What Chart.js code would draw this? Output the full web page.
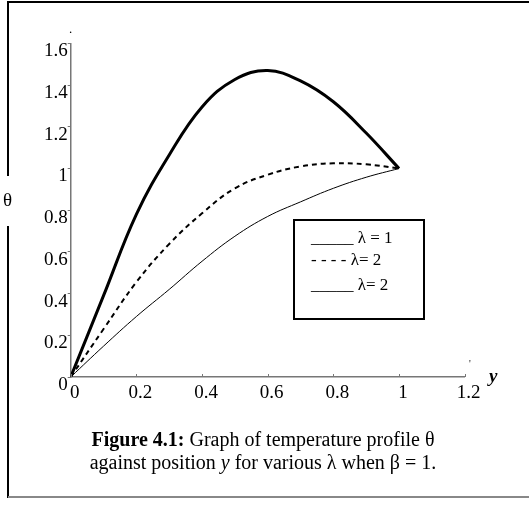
<!DOCTYPE html>
<html>
<head>
<meta charset="utf-8">
<script src="https://cdn.jsdelivr.net/npm/chart.js@4.4.1/dist/chart.umd.min.js"></script>
<style>
  html, body { margin: 0; padding: 0; background: #fff; }
  #wrap { position: relative; width: 529px; height: 506px; overflow: hidden;
    font-family: "Liberation Serif", "Times New Roman", serif; color: #000; }
  #plot { position: absolute; left: 0; top: 0; }
  .abs { position: absolute; white-space: nowrap; }
  #legend { position: absolute; left: 293px; top: 219px; width: 128px; height: 97px;
    border: 2px solid #000; font-size: 17px; }
  #legend div { position: absolute; left: 16px; line-height: 17px; white-space: nowrap; }
  #caption { position: absolute; left: 8px; width: 510px; top: 428px; text-align: center;
    font-size: 20px; line-height: 23px; }
</style>
</head>
<body>
<div id="wrap">
  <canvas id="plot" width="529" height="506"></canvas>

  <!-- frame pieces -->
  <div class="abs" style="left:8px;top:1px;width:521px;height:2px;background:#000"></div>
  <div class="abs" style="left:7px;top:1px;width:2px;height:175px;background:#000"></div>
  <div class="abs" style="left:7px;top:226px;width:2px;height:272px;background:#000"></div>
  <div class="abs" style="left:8px;top:496px;width:521px;height:2px;background:#888"></div>

  <div class="abs" style="left:3px;top:189px;font-size:19px">&theta;</div>
  <div class="abs" style="left:489px;top:365px;font-size:19px;font-weight:bold;font-style:italic">y</div>
  <div class="abs" style="left:69px;top:21px;font-size:13px">.</div>
  <div class="abs" style="left:469px;top:358px;font-size:10px">'</div>

  <div id="legend">
    <div style="top:8px">_____ &lambda; = 1</div>
    <div style="top:30px">- - - - &lambda;= 2</div>
    <div style="top:55px">_____ &lambda;= 2</div>
  </div>

  <div id="caption">
    <b>Figure 4.1:</b> Graph of temperature profile &theta;<br>
    against position <i>y</i> for various &lambda; when &beta; = 1.
  </div>
</div>

<script>
  // positions y and temperature values
  const yPos = [0, 0.1, 0.2, 0.3, 0.4, 0.5, 0.6, 0.7, 0.8, 0.9, 1.0];
  const thetaThick = [0, 0.39, 0.78, 1.065, 1.295, 1.427, 1.47, 1.42, 1.32, 1.17, 1.0];
  const thetaDashed = [0, 0.23, 0.455, 0.638, 0.785, 0.905, 0.97, 1.01, 1.025, 1.02, 1.0];
  const thetaThin = [0, 0.148, 0.29, 0.42, 0.555, 0.675, 0.77, 0.84, 0.905, 0.958, 1.0];

  const xTickLabels = ["0", "0.2", "0.4", "0.6", "0.8", "1", "1.2"];
  const yTickLabels = ["0", "0.2", "0.4", "0.6", "0.8", "1", "1.2", "1.4", "1.6"];

  const serif = "'Liberation Serif', 'Times New Roman', serif";

  function pts(vals) {
    return yPos.map((x, i) => ({ x: x, y: vals[i] }));
  }

  // small upward ticks on the x axis
  const innerTicks = {
    id: "innerTicks",
    afterDraw(chart) {
      const ctx = chart.ctx;
      const xs = chart.scales.x;
      const bottom = chart.chartArea.bottom;
      ctx.save();
      ctx.strokeStyle = "#777";
      ctx.lineWidth = 1;
      xs.ticks.forEach((t) => {
        const px = Math.round(xs.getPixelForValue(t.value)) + 0.5;
        ctx.beginPath();
        ctx.moveTo(px, bottom);
        ctx.lineTo(px, bottom - 3);
        ctx.stroke();
      });
      ctx.restore();
    },
  };

  new Chart(document.getElementById("plot"), {
    type: "line",
    data: {
      datasets: [
        {
          label: "λ = 1",
          data: pts(thetaThick),
          borderColor: "#000",
          borderWidth: 3,
        },
        {
          label: "λ= 2",
          data: pts(thetaDashed),
          borderColor: "#000",
          borderWidth: 2,
          borderDash: [5, 4],
        },
        {
          label: "λ= 2",
          data: pts(thetaThin),
          borderColor: "#000",
          borderWidth: 1,
        },
      ],
    },
    options: {
      responsive: false,
      animation: false,
      events: [],
      layout: { padding: { left: 10.7, right: 64.3, top: 43.4, bottom: 99 } },
      elements: {
        point: { radius: 0 },
        line: { tension: 0.4, fill: false },
      },
      plugins: { legend: { display: false }, tooltip: { enabled: false } },
      scales: {
        x: {
          type: "linear",
          min: 0,
          max: 1.2,
          afterFit(scale) { scale.height = 30; },
          afterBuildTicks(scale) {
            scale.ticks = xTickLabels.map((l) => ({ value: parseFloat(l) }));
          },
          ticks: {
            callback: (v, i) => xTickLabels[i],
            font: { family: serif, size: 19 },
            color: "#000",
            padding: 5,
            labelOffset: 4,
            maxRotation: 0,
            autoSkip: false,
          },
          grid: { display: false, drawTicks: false },
          border: { color: "#777", width: 1.5 },
        },
        y: {
          type: "linear",
          min: 0,
          max: 1.6,
          afterFit(scale) { scale.width = 60; },
          afterBuildTicks(scale) {
            scale.ticks = yTickLabels.map((l) => ({ value: parseFloat(l) }));
          },
          ticks: {
            callback: (v, i) => yTickLabels[i],
            font: { family: serif, size: 19 },
            color: "#000",
            padding: 0,
            labelOffset: 8,
            autoSkip: false,
          },
          grid: { drawOnChartArea: false, drawTicks: true, tickLength: 3, color: "#777" },
          border: { color: "#777", width: 1.5 },
        },
      },
    },
    plugins: [innerTicks],
  });
</script>
</body>
</html>
